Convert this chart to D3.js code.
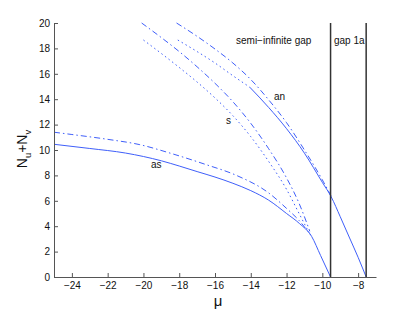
<!DOCTYPE html>
<html><head><meta charset="utf-8">
<script src="https://cdn.jsdelivr.net/npm/d3@7/dist/d3.min.js"></script>
<style>body{margin:0;background:#fff}svg{display:block}text{font-family:"Liberation Sans",Arial,sans-serif}</style>
</head><body>
<svg id="c" width="415" height="312"></svg>
<script>
const xTicks = [-24,-22,-20,-18,-16,-14,-12,-10,-8];
const yTicks = [0,2,4,6,8,10,12,14,16,18,20];
const gapEdges = [-9.54,-7.55];
// branch "as"
const asSolid = [[-25,10.45],[-23,10.12],[-21,9.76],[-19,9.15],[-18,8.74],[-17,8.3],[-16,7.87],[-15,7.38],[-14,6.8],[-13,6.05],[-12,5.0],[-11.27,4.2],[-10.6,3.2],[-10.1,1.7],[-9.54,0]];
const asDash = [[-25,11.4],[-24,11.22],[-22,10.84],[-20.2,10.42],[-18.5,9.75],[-16.5,8.85],[-14.8,8.0],[-13,6.62],[-12,5.4],[-11.3,4.45],[-10.65,3.3]];
// branch "s"
const sDash = [[-20.1,20],[-19,18.85],[-18,17.75],[-17,16.55],[-16,15.25],[-15,13.8],[-14,12.1],[-13,10.1],[-12,7.8],[-11.3,5.8],[-10.7,3.6]];
const sDot = [[-20,18.66],[-19,17.6],[-18,16.5],[-17,15.35],[-16,14.1],[-15,12.7],[-14,11.05],[-13,9.1],[-12,6.9],[-11.3,5.0],[-10.75,3.5]];
// branch "an"
const anDash = [[-18.15,20],[-17,18.95],[-16,17.95],[-15,16.85],[-14,15.55],[-13,13.95],[-12,12.15],[-11,10.0],[-10,7.65],[-9.5,6.35]];
const anDot = [[-18.08,18.66],[-17,17.75],[-16,16.85],[-15,15.85],[-14.06,14.95]];
const anSolid = [[-14.06,14.95],[-13,13.35],[-12,11.68],[-11,9.75],[-10,7.45],[-9.5,6.3],[-9,4.75],[-8.5,3.15],[-8,1.55],[-7.55,0]];

const svg = d3.select('#c');
const L=54,R=376,T=23,B=277;
const x = d3.scaleLinear().domain([-25,-7]).range([L,R]);
const y = d3.scaleLinear().domain([0,20]).range([B,T]);
const blue = '#3f5ffa';
const line = d3.line().x(d=>x(d[0])).y(d=>y(d[1])).curve(d3.curveMonotoneX);

function draw(data, dash){
  svg.append('path').attr('d', line(data)).attr('fill','none').attr('stroke',blue)
    .attr('stroke-width',1).attr('stroke-dasharray',dash||null);
}
draw(asSolid); draw(asDash,'6,3,1.5,3');
draw(sDash,'6,3,1.5,3'); draw(sDot,'1.5,3');
draw(anDash,'6,3,1.5,3'); draw(anDot,'1.5,3'); draw(anSolid);

// gap edges
svg.selectAll('line.gap').data(gapEdges).join('line').attr('class','gap')
  .attr('x1',d=>x(d)).attr('x2',d=>x(d)).attr('y1',y(20)).attr('y2',y(0))
  .attr('stroke','#333').attr('stroke-width',1.5);

// axes (MATLAB style, inward ticks)
const ax = svg.append('g').attr('transform',`translate(0,${B})`)
  .call(d3.axisBottom(x).tickValues(xTicks).tickSizeInner(-4).tickSizeOuter(0).tickPadding(5).tickFormat(d=>d3.format('')(d).replace('-','\u2212')));
const ay = svg.append('g').attr('transform',`translate(${L},0)`)
  .call(d3.axisLeft(y).tickValues(yTicks).tickSizeInner(-4).tickSizeOuter(0).tickPadding(4));
[ax,ay].forEach(g=>{
  g.select('.domain').attr('stroke','#555');
  g.selectAll('.tick line').attr('stroke','#555');
  g.selectAll('.tick text').attr('font-size',10).attr('fill','#111').attr('font-family','"Liberation Sans",Arial,sans-serif');
});

// labels
const lab=(t,px,py,fs)=>svg.append('text').attr('x',px).attr('y',py).attr('font-size',fs||10).attr('fill','#111').text(t);
lab('semi\u2212infinite gap',236,44);
lab('gap 1a',334,44);
lab('an',274,100);
lab('s',226,124);
lab('as',151,168);

svg.append('text').attr('x',218).attr('y',306).attr('text-anchor','middle').attr('font-size',15).attr('fill','#111').text('\u03bc');

const yl = svg.append('text').attr('transform','translate(27,149) rotate(-90)').attr('text-anchor','middle').attr('font-size',14).attr('fill','#111');
yl.append('tspan').text('N');
yl.append('tspan').attr('font-size',9.5).attr('dy',3.5).text('u');
yl.append('tspan').attr('dy',-3.5).text('+N');
yl.append('tspan').attr('font-size',9.5).attr('dy',3.5).text('v');
</script>
</body></html>
